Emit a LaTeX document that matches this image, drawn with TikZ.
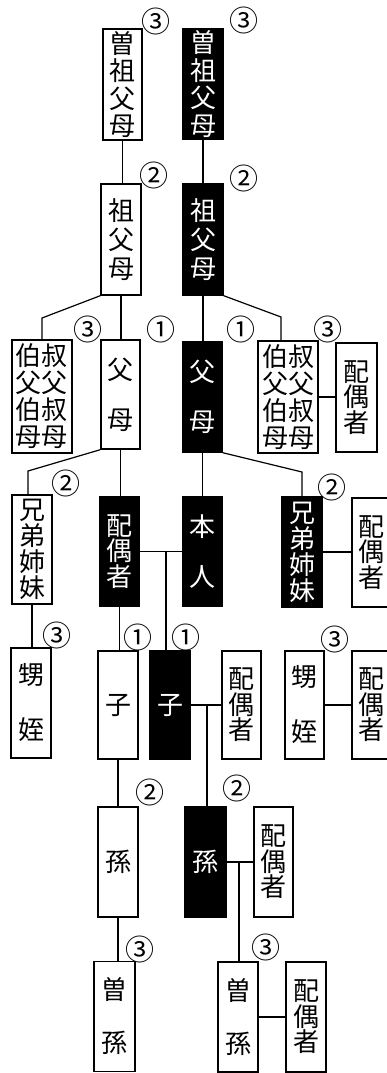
\documentclass[tikz,border=0pt]{standalone}
\usepackage{fontspec}
\newfontfamily\cjk{Noto Sans CJK JP}
\begin{document}
\begin{tikzpicture}[x=1pt,y=-1pt,
  wbox/.style={draw, line width=1.4pt, fill=white, inner sep=0pt, align=center, font=\cjk\fontsize{26}{26}\selectfont},
  bbox/.style={wbox, fill=black, text=white},
  lsk/.style={font=\cjk\fontsize{26}{#1}\selectfont},
  num/.style={inner sep=0pt, font=\cjk\fontsize{29}{29}\selectfont},
  conn/.style={line width=1.2pt}]
\useasboundingbox (0,0) rectangle (387,1073);
\clip (0,0) rectangle (387,1073);
% boxes
\node[wbox, lsk=27.5, minimum width=39pt, minimum height=111pt] (ggw) at (122.5,84.5) {曽\\祖\\父\\母};
\node[bbox, lsk=27.5, minimum width=40pt, minimum height=110pt] (ggb) at (203,84) {曽\\祖\\父\\母};
\node[wbox, lsk=29, minimum width=40pt, minimum height=111pt] (gw) at (121,239.5) {祖\\父\\母};
\node[bbox, lsk=29, minimum width=40pt, minimum height=111pt] (gb) at (203,239.5) {祖\\父\\母};
\node[wbox, lsk=27, minimum width=60pt, minimum height=113pt] (ul) at (42,396.5) {伯叔\\父父\\伯叔\\母母};
\node[wbox, lsk=50, minimum width=39pt, minimum height=109pt] (fw) at (120.5,394.5) {父\\母};
\node[bbox, lsk=50, minimum width=39pt, minimum height=110pt] (fb) at (202.5,397) {父\\母};
\node[wbox, lsk=27, minimum width=60pt, minimum height=112pt] (ur) at (288,397) {伯叔\\父父\\伯叔\\母母};
\node[wbox, lsk=25.5, minimum width=41pt, minimum height=109pt] (urs) at (356.5,397.5) {配\\偶\\者};
\node[wbox, lsk=26, minimum width=40pt, minimum height=109pt] (sw) at (32,549.5) {兄\\弟\\姉\\妹};
\node[bbox, lsk=25.5, minimum width=39pt, minimum height=109pt] (spb) at (119.5,551.5) {配\\偶\\者};
\node[bbox, lsk=50, minimum width=39pt, minimum height=109pt] (me) at (202.5,551.5) {本\\人};
\node[bbox, lsk=26, minimum width=40pt, minimum height=110pt] (sb) at (302,552) {兄\\弟\\姉\\妹};
\node[wbox, lsk=25.5, minimum width=38pt, minimum height=109pt] (sbs) at (371,552.5) {配\\偶\\者};
\node[wbox, lsk=55, minimum width=40pt, minimum height=110pt] (nw) at (31,703) {甥\\姪};
\node[wbox, minimum width=40pt, minimum height=108pt] (cw) at (118,705) {子};
\node[bbox, minimum width=40pt, minimum height=108pt] (cb) at (170,705) {子};
\node[wbox, lsk=25.5, minimum width=39pt, minimum height=108pt] (cbs) at (241.5,705) {配\\偶\\者};
\node[wbox, lsk=55, minimum width=39pt, minimum height=108pt] (nr) at (304.5,705) {甥\\姪};
\node[wbox, lsk=25.5, minimum width=38pt, minimum height=108pt] (nrs) at (371,705) {配\\偶\\者};
\node[wbox, minimum width=40pt, minimum height=110pt] (gcw) at (118,862) {孫};
\node[bbox, minimum width=41pt, minimum height=110pt] (gcb) at (205.5,862) {孫};
\node[wbox, lsk=25.5, minimum width=39pt, minimum height=110pt] (gcbs) at (273.5,862) {配\\偶\\者};
\node[wbox, lsk=53, minimum width=41pt, minimum height=110pt] (ggcw) at (114.5,1016.5) {曽\\孫};
\node[wbox, lsk=53, minimum width=40pt, minimum height=110pt] (ggcr) at (238,1017) {曽\\孫};
\node[wbox, lsk=25.5, minimum width=40pt, minimum height=110pt] (ggcrs) at (306,1017) {配\\偶\\者};
% degree marks
\node[num] (d1) at (156,21) {③};
\node[num] (d2) at (244,20) {③};
\node[num] (d3) at (154,175) {②};
\node[num] (d4) at (244,178) {②};
\node[num] (d5) at (88,329) {③};
\node[num] (d6) at (161,329) {①};
\node[num] (d7) at (241,329) {①};
\node[num] (d8) at (328,329) {③};
\node[num] (d9) at (66,483) {②};
\node[num] (d10) at (332,487) {②};
\node[num] (d11) at (57,635) {③};
\node[num] (d12) at (138,637) {①};
\node[num] (d13) at (186,637) {①};
\node[num] (d14) at (335,639) {③};
\node[num] (d15) at (150,792) {②};
\node[num] (d16) at (237,788) {②};
\node[num] (d17) at (140,949) {③};
\node[num] (d18) at (266,947) {③};
% connectors
\coordinate (kl) at (42,318);
\coordinate (kr) at (281,317);
\coordinate (ks) at (28,471);
\coordinate (kb) at (302,472);
\coordinate (m1) at (166,551.5);
\coordinate (m2) at (207,705);
\coordinate (m3) at (239,862);
\draw[conn] (ggw.south) -- (ggw.south |- gw.north);
\draw[conn] (ggb.south) -- (ggb.south |- gb.north);
\draw[conn] (gw.south west) -- (kl) -- (kl |- ul.north);
\draw[conn] (gw.south) -- (gw.south |- fw.north);
\draw[conn] (gb.south) -- (gb.south |- fb.north);
\draw[conn] (gb.south east) -- (kr) -- (kr |- ur.north);
\draw[conn] (ur.east) -- (ur.east -| urs.west);
\draw[conn] (fw.south west) -- (ks) -- (ks |- sw.north);
\draw[conn] (fw.south) -- (fw.south |- spb.north);
\draw[conn] (fb.south) -- (fb.south |- me.north);
\draw[conn] (fb.south east) -- (kb) -- (kb |- sb.north);
\draw[conn] (sb.east) -- (sb.east -| sbs.west);
\draw[conn] (sw.south) -- (sw.south |- nw.north);
\draw[conn] (spb.east) -- (me.west);
\draw[conn] (m1) -- (m1 |- cb.north);
\draw[conn] (spb.south) -- (spb.south |- cw.north);
\draw[conn] (cb.east) -- (cbs.west);
\draw[conn] (m2) -- (m2 |- gcb.north);
\draw[conn] (nr.east) -- (nrs.west);
\draw[conn] (cw.south) -- (cw.south |- gcw.north);
\draw[conn] (gcb.east) -- (gcbs.west);
\draw[conn] (m3) -- (m3 |- ggcr.north);
\draw[conn] (gcw.south) -- (gcw.south |- ggcw.north);
\draw[conn] (ggcr.east) -- (ggcrs.west);
\end{tikzpicture}
\end{document}
